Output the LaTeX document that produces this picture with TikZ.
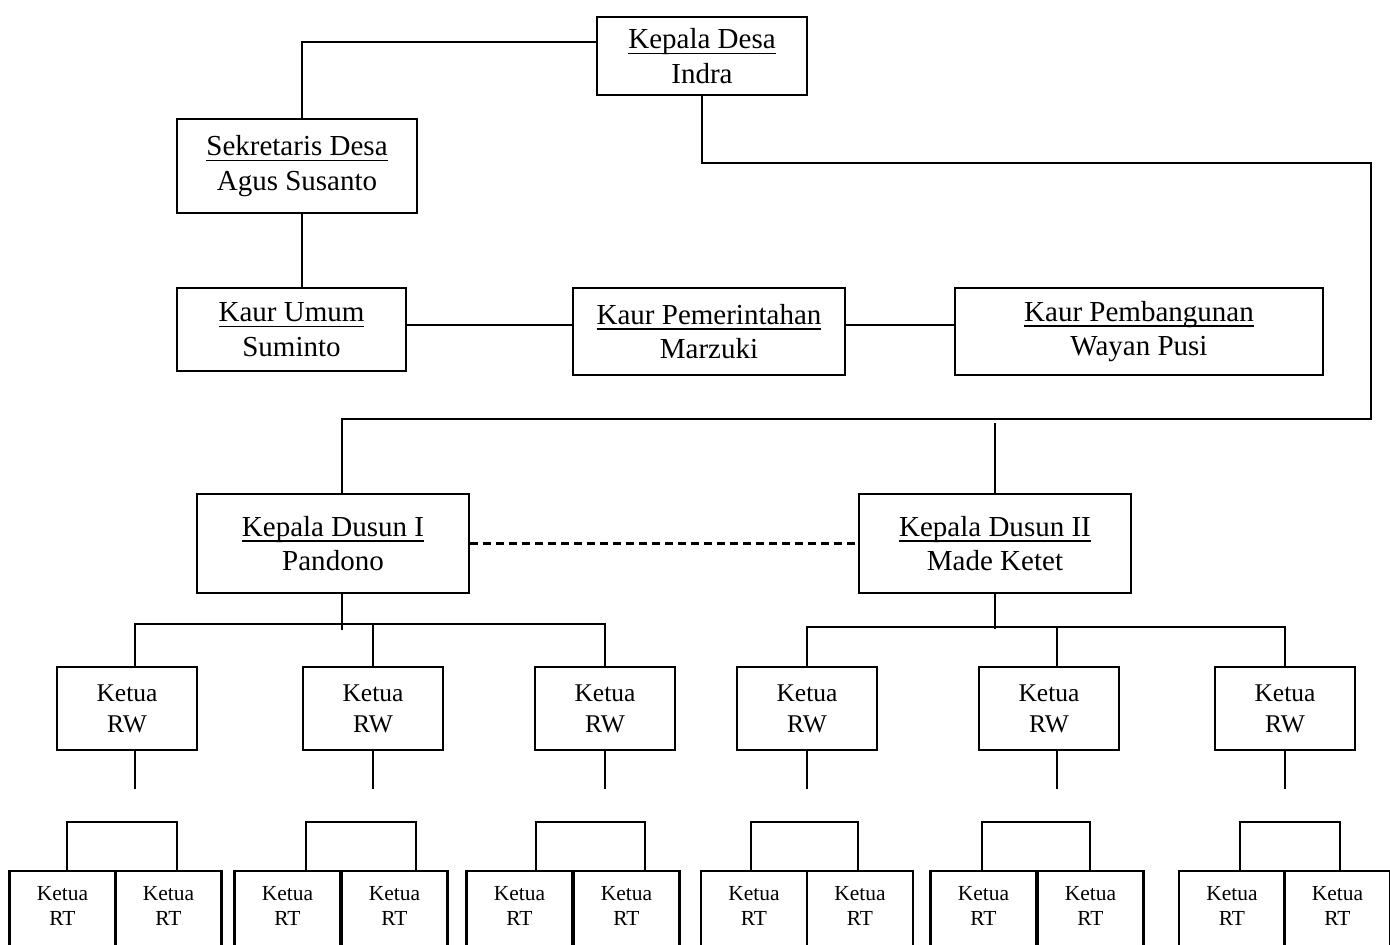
\documentclass[tikz,border=0pt]{standalone}
\usepackage{fontspec}
\setmainfont{Liberation Serif}
\usetikzlibrary{calc}

\newcommand{\bigfont}{\fontsize{8.25}{9.8}\selectfont}
\newcommand{\rwfont}{\fontsize{7.25}{8.8}\selectfont}
\newcommand{\rtfont}{\fontsize{6.1}{7.1}\selectfont}
\newcommand{\ulname}[1]{\underline{\raisebox{0pt}[\height][0pt]{#1}}}

\begin{document}
\begin{tikzpicture}[
        x=0.01cm, y=-0.01cm,
        line width=0.6pt,
        every node/.style={
            font=\bigfont,
            draw,
            rectangle,
            align=center,
            inner sep=0pt},
        rw/.style={
            font=\rwfont,
            minimum width=1.40cm,
            minimum height=0.83cm},
        rt/.style={
            font=\rtfont,
            anchor=north,
            minimum width=1.06cm,
            inner xsep=0pt,
            inner ysep=0.15cm}]
        \useasboundingbox (0,0) rectangle (1390,945);

        \node[minimum width=2.10cm, minimum height=0.78cm] (desa) at (702,56) {\ulname{Kepala Desa}\\Indra};
        \node[minimum width=2.40cm, minimum height=0.94cm] (sekdes) at (297,166) {\ulname{Sekretaris Desa}\\Agus Susanto};
        \node[minimum width=2.29cm, minimum height=0.83cm] (umum) at (291.5,329.5) {\ulname{Kaur Umum}\\Suminto};
        \node[minimum width=2.72cm, minimum height=0.87cm] (pemerintahan) at (709,331.5) {\ulname{Kaur Pemerintahan}\\Marzuki};
        \node[minimum width=3.68cm, minimum height=0.87cm] (pembangunan) at (1139,331.5) {\ulname{Kaur Pembangunan}\\Wayan Pusi};
        \node[minimum width=2.72cm, minimum height=0.99cm] (dusun1) at (333,543.5) {\ulname{Kepala Dusun I}\\Pandono};
        \node[minimum width=2.72cm, minimum height=0.99cm] (dusun2) at (995,543.5) {\ulname{Kepala Dusun II}\\Made Ketet};

        \node[rw] (rw1) at (127,708.5) {Ketua\\RW};
        \node[rw] (rw2) at (373,708.5) {Ketua\\RW};
        \node[rw] (rw3) at (605,708.5) {Ketua\\RW};
        \node[rw] (rw4) at (807,708.5) {Ketua\\RW};
        \node[rw] (rw5) at (1049,708.5) {Ketua\\RW};
        \node[rw] (rw6) at (1285,708.5) {Ketua\\RW};

        \node[rt] (rt1) at (62.5,870) {Ketua\\RT\\[0.3cm]};
        \node[rt] (rt2) at (168.5,870) {Ketua\\RT\\[0.3cm]};
        \node[rt] (rt3) at (287.5,870) {Ketua\\RT\\[0.3cm]};
        \node[rt] (rt4) at (394.5,870) {Ketua\\RT\\[0.3cm]};
        \node[rt] (rt5) at (519.5,870) {Ketua\\RT\\[0.3cm]};
        \node[rt] (rt6) at (626.5,870) {Ketua\\RT\\[0.3cm]};
        \node[rt] (rt7) at (754,870) {Ketua\\RT\\[0.3cm]};
        \node[rt] (rt8) at (860,870) {Ketua\\RT\\[0.3cm]};
        \node[rt] (rt9) at (983.5,870) {Ketua\\RT\\[0.3cm]};
        \node[rt] (rt10) at (1090.5,870) {Ketua\\RT\\[0.3cm]};
        \node[rt] (rt11) at (1232,870) {Ketua\\RT\\[0.3cm]};
        \node[rt] (rt12) at (1337.5,870) {Ketua\\RT\\[0.3cm]};

        \coordinate (j0) at (302,42);
        \coordinate (j1) at (342,419);
        \coordinate (j2) at (0,325);

        \draw (desa.west |- j0) -| (sekdes.north -| j0);
        \draw (sekdes.south -| j0) -- (umum.north -| j0);
        \draw (umum.east |- j2) -- (pemerintahan.west |- j2);
        \draw (pemerintahan.east |- j2) -- (pembangunan.west |- j2);
        \draw (desa.south) |- (1371,163) |- (j1) -- (j1 |- dusun1.north);
        \draw (dusun2.north) -- ++(0,-70);
        \draw[dash pattern=on 0.08cm off 0.05cm] (dusun1.east) -- (dusun2.west);

        \draw ($(dusun1.south)+(9,0)$) -- ++(0,36);
        \draw ($(rw1.north)+(8,0)$) |- ($(rw3.north)+(0,-42)$) -- (rw3.north);
        \draw (rw2.north) -- ++(0,-42);
        \draw (dusun2.south) -- ++(0,35);
        \draw (rw4.north) |- ($(rw6.north)+(0,-39)$) -- (rw6.north);
        \draw ($(rw5.north)+(8,0)$) -- ++(0,-39);

        \draw ($(rw1.south)+(8,0)$) -- ++(0,38);
        \draw (rw2.south) -- ++(0,38);
        \draw (rw3.south) -- ++(0,38);
        \draw (rw4.south) -- ++(0,38);
        \draw ($(rw5.south)+(8,0)$) -- ++(0,38);
        \draw (rw6.south) -- ++(0,38);

        \draw ($(rt1.north)+(4.5,0)$) -- ++(0,-48) -| ($(rt2.north)+(8.5,0)$);
        \draw ($(rt3.north)+(18.5,0)$) -- ++(0,-48) -| ($(rt4.north)+(21.5,0)$);
        \draw ($(rt5.north)+(16.5,0)$) -- ++(0,-48) -| ($(rt6.north)+(18.5,0)$);
        \draw ($(rt7.north)+(-3,0)$) -- ++(0,-48) -| ($(rt8.north)+(-2,0)$);
        \draw ($(rt9.north)+(-1.5,0)$) -- ++(0,-48) -| ($(rt10.north)+(-0.5,0)$);
        \draw ($(rt11.north)+(8,0)$) -- ++(0,-48) -| ($(rt12.north)+(2.5,0)$);
    \end{tikzpicture}
\end{document}
